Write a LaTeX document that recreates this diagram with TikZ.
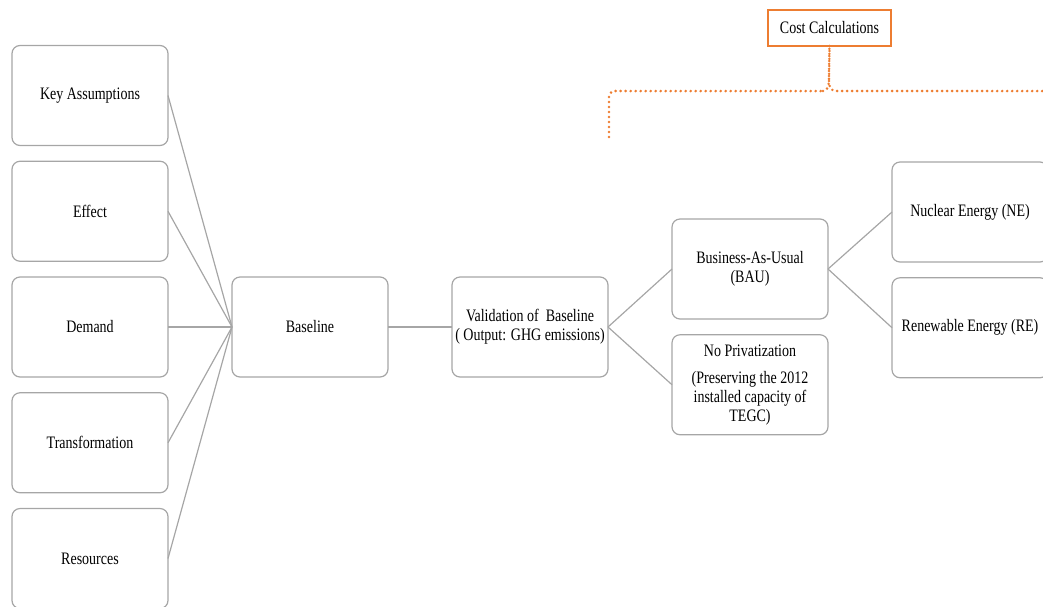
\documentclass[tikz,border=0pt]{standalone}
\usepackage{fontspec}
\setmainfont{Liberation Serif}[FakeStretch=0.8]
\usetikzlibrary{positioning}
\definecolor{boxgray}{HTML}{A6A6A6}
\definecolor{costorange}{HTML}{ED7D31}
\begin{document}
\begin{tikzpicture}[x=1pt, y=-1pt, node distance={15.75pt and 64pt},
        font=\fontsize{17.5}{19}\selectfont,
        main/.style = {draw=boxgray, line width=1.2pt, rounded corners=8pt, minimum width=156pt, minimum height=100pt, inner sep=0pt, outer sep=0pt, align=center},
        link/.style = {boxgray, line width=1.2pt},
        cost/.style = {draw=costorange, line width=1.2pt, minimum width=123pt, minimum height=36pt, inner sep=0pt, outer sep=0pt},
        brace/.style = {costorange, line width=2.8pt, line cap=round, dash pattern=on 0pt off 5pt}]
        \clip (0,0) rectangle (1043,606);

        \node[main] (ka) at (90,95.5)      {Key Assumptions};
        \node[main] (eff) [below=of ka]    {Effect};
        \node[main] (dem) [below=of eff]   {Demand};
        \node[main] (tra) [below=of dem]   {Transformation};
        \node[main] (res) [below=of tra]   {Resources};

        \node[main] (base) [right=of dem]  {Baseline};
        \node[main] (val) [right=of base]  {Validation of \ Baseline\\( Output: GHG emissions)};

        \node[main] (bau) [right=of val, yshift=58pt] {Business-As-Usual\\(BAU)};
        \node[main] (np) [below=of bau]    {No Privatization\\[8pt](Preserving the 2012\\installed capacity of\\TEGC)};

        \node[main] (ne) [right=of bau, yshift=57pt] {Nuclear Energy (NE)};
        \node[main] (re) [below=of ne]     {Renewable Energy (RE)};

        \node[cost] (cc) at (829.5,28) {Cost Calculations};

        % lines into the baseline
        \foreach \n in {ka, eff, dem, tra, res}
            \draw[link] (\n.east) -- (base.west);
        \draw[link] (base) -- (val);
        \draw[link] (val.east) -- (bau.west);
        \draw[link] (val.east) -- (np.west);
        \draw[link] (bau.east) -- (ne.west);
        \draw[link] (bau.east) -- (re.west);

        % dotted brace
        \coordinate (braceL) at (609,137);
        \coordinate (braceR) at (1043,91);
        \draw[brace, rounded corners=6pt] (braceL) -- (609,91) -- (823,91);
        \draw[brace] (823,91) to[out=0, in=-90] (829,76) -- (cc.south);
        \draw[brace] (cc.south) -- (829,76) to[out=-90, in=180] (835,91) -- (braceR);

    \end{tikzpicture}
\end{document}
